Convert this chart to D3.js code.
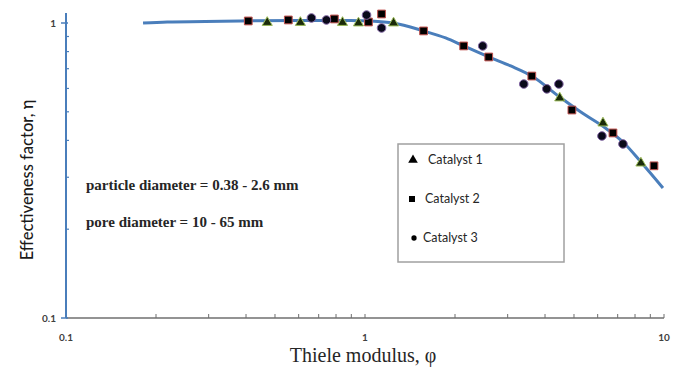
<!DOCTYPE html>
<html>
<head>
<meta charset="utf-8">
<script src="https://cdn.jsdelivr.net/npm/d3@7"></script>
<style>
  body { margin: 0; background: #fff; }
  svg { display: block; }
</style>
</head>
<body>
<div id="chart"></div>
<script>
// fitted curve (Thiele modulus, effectiveness factor)
const curvePhi = [0.181, 0.218, 0.383, 0.608, 0.894, 1.043, 1.246, 1.57, 1.861, 2.138, 2.593, 3.072, 3.613, 4.48, 5.27, 6.30, 7.35, 8.37, 9.92];
const curveEta = [1.0, 1.008, 1.016, 1.02, 1.02, 1.016, 1.0, 0.94, 0.89, 0.836, 0.767, 0.715, 0.661, 0.561, 0.499, 0.444, 0.392, 0.338, 0.276];

// measured points
const cat1Phi = [0.471, 0.608, 0.841, 0.951, 1.246, 4.48, 6.25, 8.37];
const cat1Eta = [1.004, 1.004, 1.004, 1.0, 1.0, 0.557, 0.458, 0.335];

const cat2Phi = [0.407, 0.554, 0.79, 1.027, 1.136, 1.57, 2.138, 2.593, 3.613, 4.92, 6.75, 9.26];
const cat2Eta = [1.016, 1.024, 1.032, 1.008, 1.073, 0.94, 0.836, 0.767, 0.661, 0.507, 0.424, 0.328];

const cat3Phi = [0.662, 0.743, 1.012, 1.136, 2.475, 3.396, 4.055, 4.45, 6.2, 7.29];
const cat3Eta = [1.04, 1.024, 1.064, 0.962, 0.836, 0.621, 0.598, 0.621, 0.414, 0.389];

const xTickLabels = [0.1, 1, 10];
const yTickLabels = [0.1, 1];
const legendNames = ["Catalyst 1", "Catalyst 2", "Catalyst 3"];
const notes = ["particle diameter = 0.38 - 2.6 mm", "pore diameter = 10 - 65 mm"];

const width = 682, height = 376;

const svg = d3.select("#chart").append("svg")
    .attr("width", width)
    .attr("height", height);

const x = d3.scaleLog().domain([0.1, 10]).range([66, 664]);
const y = d3.scaleLog().domain([0.1, 1]).range([318, 23]);
const yTop = 13;

// minor tick values for both decades
const minorX = [];
for (const base of [0.1, 1]) {
    for (let k = 2; k <= 9; k++) minorX.push(base * k);
}
const minorY = [];
for (let k = 2; k <= 9; k++) minorY.push(0.1 * k);

// x axis (gray, ticks pointing up)
svg.append("line")
    .attr("x1", x(0.1)).attr("x2", x(10))
    .attr("y1", y(0.1)).attr("y2", y(0.1))
    .attr("stroke", "#6f6f6f")
    .attr("stroke-width", 1.5);

svg.selectAll(".xminor")
    .data(minorX.concat([1, 10]))
    .join("line")
    .attr("x1", d => x(d)).attr("x2", d => x(d))
    .attr("y1", y(0.1)).attr("y2", y(0.1) - 4)
    .attr("stroke", "#6f6f6f")
    .attr("stroke-width", 1);

svg.selectAll(".xlabel")
    .data(xTickLabels)
    .join("text")
    .attr("x", d => x(d))
    .attr("y", 341)
    .attr("text-anchor", "middle")
    .attr("fill", "#404040")
    .style("font-family", "Lato, 'Liberation Sans', sans-serif")
    .style("font-size", "10px")
    .style("font-weight", "bold")
    .text(d => d);

// y axis (blue)
svg.append("line")
    .attr("x1", x(0.1)).attr("x2", x(0.1))
    .attr("y1", y(0.1)).attr("y2", yTop)
    .attr("stroke", "#4a7ebb")
    .attr("stroke-width", 2);

svg.selectAll(".ymajor")
    .data(yTickLabels)
    .join("line")
    .attr("x1", x(0.1) - 5).attr("x2", x(0.1) + 2)
    .attr("y1", d => y(d)).attr("y2", d => y(d))
    .attr("stroke", "#4a7ebb")
    .attr("stroke-width", 1.5);

svg.selectAll(".yminor")
    .data(minorY)
    .join("line")
    .attr("x1", x(0.1)).attr("x2", x(0.1) + 3)
    .attr("y1", d => y(d)).attr("y2", d => y(d))
    .attr("stroke", "#4a7ebb")
    .attr("stroke-width", 1.2);

svg.selectAll(".ylabel")
    .data(yTickLabels)
    .join("text")
    .attr("x", x(0.1) - 10)
    .attr("y", d => y(d) + 4)
    .attr("text-anchor", "end")
    .attr("fill", "#404040")
    .style("font-family", "Lato, 'Liberation Sans', sans-serif")
    .style("font-size", "10px")
    .style("font-weight", "bold")
    .text(d => d);

// axis titles
svg.append("text")
    .attr("x", 363)
    .attr("y", 362)
    .attr("text-anchor", "middle")
    .attr("fill", "#262626")
    .style("font-family", "'Liberation Serif', 'DejaVu Serif', serif")
    .style("font-size", "20px")
    .text("Thiele modulus, \u03c6");

svg.append("text")
    .attr("transform", "translate(33,180) rotate(-90)")
    .attr("text-anchor", "middle")
    .attr("fill", "#1a1a1a")
    .style("font-family", "Lato, 'Open Sans', sans-serif")
    .style("font-size", "16.5px")
    .style("font-weight", "500")
    .text("Effectiveness factor, \u03b7");

// fitted curve
const curveData = curvePhi.map((p, i) => [p, curveEta[i]]);
svg.append("path")
    .datum(curveData)
    .attr("fill", "none")
    .attr("stroke", "#4a7ebb")
    .attr("stroke-width", 3)
    .attr("d", d3.line()
        .x(d => x(d[0]))
        .y(d => y(d[1]))
        .curve(d3.curveMonotoneX));

// markers
const tri = d3.symbol().type(d3.symbolTriangle).size(44);
const sq = d3.symbol().type(d3.symbolSquare).size(60);

svg.selectAll(".cat1")
    .data(cat1Phi.map((p, i) => [p, cat1Eta[i]]))
    .join("path")
    .attr("d", tri)
    .attr("transform", d => `translate(${x(d[0])},${y(d[1])})`)
    .attr("fill", "#1a2a0a")
    .attr("stroke", "#9bbb59")
    .attr("stroke-width", 1);

svg.selectAll(".cat2")
    .data(cat2Phi.map((p, i) => [p, cat2Eta[i]]))
    .join("path")
    .attr("d", sq)
    .attr("transform", d => `translate(${x(d[0])},${y(d[1])})`)
    .attr("fill", "#000")
    .attr("stroke", "#c0504d")
    .attr("stroke-width", 1);

svg.selectAll(".cat3")
    .data(cat3Phi.map((p, i) => [p, cat3Eta[i]]))
    .join("circle")
    .attr("cx", d => x(d[0]))
    .attr("cy", d => y(d[1]))
    .attr("r", 4.3)
    .attr("fill", "#0a0a1a")
    .attr("stroke", "#8064a2")
    .attr("stroke-width", 1);

// notes
svg.selectAll(".note")
    .data(notes)
    .join("text")
    .attr("x", 86)
    .attr("y", (d, i) => 190 + i * 37)
    .attr("fill", "#262626")
    .style("font-family", "'Liberation Serif', 'DejaVu Serif', serif")
    .style("font-size", "15px")
    .style("font-weight", "bold")
    .text(d => d);

// legend
const legend = svg.append("g");
legend.append("rect")
    .attr("x", 398).attr("y", 144)
    .attr("width", 166).attr("height", 118)
    .attr("fill", "#fff")
    .attr("stroke", "#a0a0a0")
    .attr("stroke-width", 1.5);

const legendY = [160, 199, 238];
const legendShapes = [
    d3.symbol().type(d3.symbolTriangle).size(40)(),
    d3.symbol().type(d3.symbolSquare).size(36)(),
    d3.symbol().type(d3.symbolCircle).size(22)()
];
const legendSymX = [413, 412, 414];
const legendTextX = [428, 425, 423];

legendNames.forEach((name, i) => {
    legend.append("path")
        .attr("d", legendShapes[i])
        .attr("transform", `translate(${legendSymX[i]},${legendY[i]})`)
        .attr("fill", "#000");
    legend.append("text")
        .attr("x", legendTextX[i])
        .attr("y", legendY[i] + 4)
        .attr("fill", "#262626")
        .style("font-family", "Lato, 'Open Sans', sans-serif")
        .style("font-size", "12.5px")
        .text(name);
});
</script>
</body>
</html>
